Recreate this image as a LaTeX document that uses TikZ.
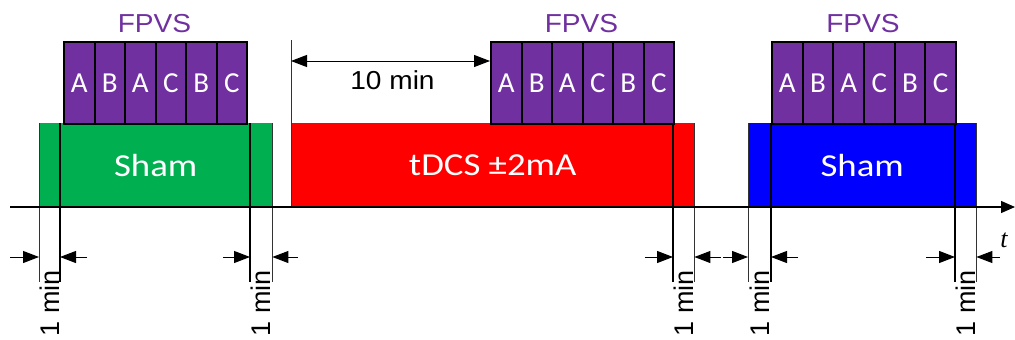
\documentclass[tikz,border=0pt]{standalone}
\usepackage{fontspec}
\setmainfont{Carlito}
\newfontfamily\arialf{Liberation Sans}
\newfontfamily\timesf{Liberation Serif}
\usetikzlibrary{arrows.meta}
\definecolor{fpurple}{RGB}{112,48,160}
\definecolor{fgreen}{RGB}{0,176,80}
\definecolor{fred}{RGB}{255,0,0}
\definecolor{fblue}{RGB}{0,0,255}
\begin{document}
\begin{tikzpicture}[x=1pt,y=-1pt,
 band/.style={inner sep=0pt, minimum height=84pt, anchor=north west, text=white, font=\fontsize{32}{34}\selectfont},
 cell/.style={draw=black, line width=2pt, fill=fpurple, inner sep=0pt, minimum width=#1, minimum height=82pt, anchor=north west, text=white, font=\fontsize{29}{31}\selectfont},
 flabel/.style={text=fpurple, font=\arialf\fontsize{26}{28}\selectfont, inner sep=0pt},
 thinln/.style={line width=0.9pt, draw=black!80},
 innerln/.style={line width=1.6pt, draw=black},
 dimarrow/.style={line width=1pt, -{Triangle[length=16pt,width=12pt]}},
 dimtext/.style={font=\arialf\fontsize{27}{29}\selectfont, rotate=90, anchor=east, inner sep=0pt}]
\useasboundingbox (0,0) rectangle (1015,340);
% bands
\node[band, fill=fgreen, minimum width=233pt] (g) at (39,123) {\scalebox{1.15}[1]{Sham}};
\node[band, fill=fred, minimum width=403pt] (r) at (291,123) {\scalebox{1.15}[1]{tDCS ±2mA}};
\node[band, fill=fblue, minimum width=228pt] (b) at (748,123) {\scalebox{1.15}[1]{Sham}};
% FPVS blocks
\foreach \i/\L in {1/A,2/B,3/A,4/C,5/B,6/C}{
  \node[cell=30.5pt] (p1c\i) at ({63+(\i-1)*30.5},41) {\L};
  \node[cell=30.5pt] (p2c\i) at ({490+(\i-1)*30.5},41) {\L};
  \node[cell=30.67pt] (p3c\i) at ({771+(\i-1)*30.67},41) {\L};
}
\node[flabel] (f1) at (154.5,24) {\scalebox{1.08}[1]{FPVS}};
\node[flabel] (f2) at (581.5,24) {\scalebox{1.08}[1]{FPVS}};
\node[flabel] (f3) at (863,24) {\scalebox{1.08}[1]{FPVS}};
% 10 min
\coordinate (rtop) at (291,40);
\coordinate (m1) at (291,61);
\draw[thinln] (rtop) -- (r.south west);
\draw[line width=1pt, {Triangle[length=16pt,width=12pt]}-{Triangle[length=16pt,width=12pt]}] (m1) -- (m1 -| p2c1.west);
\node[font=\arialf\fontsize{26}{28}\selectfont, inner sep=0pt] (tm) at (392.5,80) {\scalebox{1.08}[1]{10 min}};
% vertical marker lines
\coordinate (i1) at (60,123);
\coordinate (i2) at (250,123);
\coordinate (i3) at (673,123);
\coordinate (i4) at (771,123);
\coordinate (i5) at (955,123);
\foreach \c in {g.north west, g.north east, r.north east, b.north west, b.north east}
  \draw[thinln] (\c) -- (\c |- 0,282);
\foreach \c in {i1,i2,i3,i4,i5}
  \draw[innerln] (\c) -- (\c |- 0,282);
% axis
\coordinate (ax0) at (10,207);
\coordinate (ax1) at (1015,207);
\draw[line width=1.3pt, -{Triangle[length=14pt,width=12pt]}] (ax0) -- (ax1);
\node[font=\timesf\itshape\fontsize{26}{28}\selectfont, inner sep=0pt] (t) at (1004,240) {t};
% dimension arrows
\foreach \a/\c in {10/g.north west, 87/i1, 223/i2, 298/g.north east, 645/i3, 721/r.north east, 723/b.north west, 798/i4, 926/i5, 1000/b.north east}{
  \coordinate (s) at (\a,257);
  \draw[dimarrow] (s) -- (s -| \c);
}
% 1 min labels
\foreach \x [count=\k] in {49.5,261,683.5,759.5,965.5}
  \node[dimtext] (d\k) at (\x,270) {1 min};
\end{tikzpicture}
\end{document}
